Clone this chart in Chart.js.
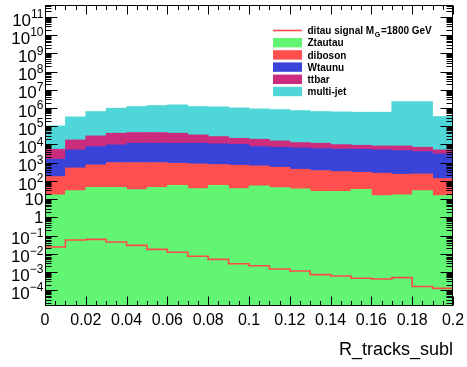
<!DOCTYPE html>
<html>
<head>
<meta charset="utf-8">
<title>R_tracks_subl</title>
<script src="https://cdn.jsdelivr.net/npm/chart.js@4.4.1/dist/chart.umd.min.js"></script>
<style>
  html, body { margin: 0; padding: 0; background: #fff; }
  #wrap { width: 467px; height: 367px; }
</style>
</head>
<body>
<div id="wrap"><canvas id="myChart" width="467" height="367"></canvas></div>
<script>
// 20 bins in R_tracks_subl
const binEdges = [0, 0.01, 0.02, 0.03, 0.04, 0.05, 0.06, 0.07, 0.08, 0.09, 0.1,
                  0.11, 0.12, 0.13, 0.14, 0.15, 0.16, 0.17, 0.18, 0.19, 0.2];

// backgrounds, stacked bottom -> top
const ztautau  = [17, 29, 44, 44, 33, 44, 57, 38, 57, 38, 53, 43, 36, 27, 27, 34, 15.5, 17, 29, 15.5];
const diboson  = [155, 485, 706, 965, 976, 965, 870, 814, 726, 682, 609, 516, 398, 340, 296, 263, 247, 214, 211, 118];
const wtaunu   = [1370, 4500, 6890, 8410, 10630, 10630, 10710, 10790, 9910, 9530,
                  6980, 6460, 6020, 5570, 5130, 5150, 4750, 4370, 3820, 2890];
const ttbar    = [3910, 12700, 21800, 31800, 33200, 33200, 29600, 21800, 16400, 11700,
                  11700, 8630, 6220, 5710, 4390, 3590, 3290, 3700, 2960, 1990];
const multijet = [98900, 308000, 610000, 934000, 1160000, 1323000, 1446000, 1172000, 1127000, 995000,
                  877000, 808000, 713000, 628000, 604000, 579000, 580000, 2257000, 2258000, 335000];

// signal (drawn as a step line, not stacked)
const signal = [0.0234, 0.0569, 0.0617, 0.0442, 0.0288, 0.0174, 0.0120, 0.00724, 0.00490, 0.00282,
                0.00219, 0.00145, 0.00112, 0.00071, 0.00060, 0.00045, 0.00041, 0.00049, 0.00016, 0.000126];

const xTickLabels = ['0', '0.02', '0.04', '0.06', '0.08', '0.1', '0.12', '0.14', '0.16', '0.18', '0.2'];
const yTickExponents = [-4, -3, -2, -1, 0, 1, 2, 3, 4, 5, 6, 7, 8, 9, 10, 11];

const Y_MIN = 1.35e-5;
const Y_MAX = 4.5e11;
const FONT = '"Liberation Sans", Arial, Helvetica, sans-serif';

const stackDefs = [
    { label: 'Ztautau',   values: ztautau,  color: '#62f473' },
    { label: 'diboson',   values: diboson,  color: '#ff4f4f' },
    { label: 'Wtaunu',    values: wtaunu,   color: '#3a43d8' },
    { label: 'ttbar',     values: ttbar,    color: '#cc2c7d' },
    { label: 'multi-jet', values: multijet, color: '#4fd6d8' }
];
const signalColor = '#ff4a4a';

const binCenters = signal.map((_, i) => (binEdges[i] + binEdges[i + 1]) / 2);

// floating bars: each component sits on top of the sum below it
let running = binCenters.map(() => 0);
const barSets = stackDefs.map(def => {
    const pts = def.values.map((v, i) => {
        const lo = running[i];
        const hi = lo + v;
        running[i] = hi;
        return { x: binCenters[i], y: [Math.max(lo, Y_MIN), hi] };
    });
    return {
        type: 'bar',
        label: def.label,
        data: pts,
        backgroundColor: def.color,
        borderWidth: 0,
        grouped: false,
        barPercentage: 1,
        categoryPercentage: 1
    };
});

const signalSet = {
    type: 'line',
    label: 'ditau signal',
    data: binEdges.map((x, i) => ({ x: x, y: signal[Math.min(i, signal.length - 1)] })),
    borderColor: signalColor,
    borderWidth: 1.6,
    pointRadius: 0,
    fill: false,
    stepped: 'before',
    tension: 0
};

function line(ctx, x1, y1, x2, y2) {
    ctx.beginPath();
    ctx.moveTo(x1, y1);
    ctx.lineTo(x2, y2);
    ctx.stroke();
}

function supText(e) {
    const map = { '-': '\u2212' };
    return String(e).split('').map(c => map[c] || c).join('');
}

// frame, inward ticks on all four sides, labels and legend
const rootStyle = {
    id: 'rootStyle',
    afterDraw(chart) {
        const { ctx, chartArea: a, scales: { x, y } } = chart;
        ctx.save();
        ctx.strokeStyle = '#000';
        ctx.lineWidth = 1;

        const L = Math.round(a.left) + 0.5, R = Math.round(a.right) - 0.5;
        const T = Math.round(a.top) + 0.5, B = Math.round(a.bottom) - 0.5;

        // x ticks every 0.005, major every 0.02
        for (let k = 0; k <= 40; k++) {
            const px = Math.round(x.getPixelForValue(k * 0.005)) + 0.5;
            const len = k % 4 === 0 ? 9 : 4.5;
            line(ctx, px, B, px, B - len);
            line(ctx, px, T, px, T + len);
        }
        // y ticks, log decades with 2..9 minors
        for (let e = -5; e <= 11; e++) {
            for (let m = 1; m <= 9; m++) {
                const v = m * Math.pow(10, e);
                if (v < Y_MIN || v > Y_MAX) continue;
                const py = Math.round(y.getPixelForValue(v)) + 0.5;
                const len = m === 1 ? 12 : 6;
                line(ctx, L, py, L + len, py);
                line(ctx, R, py, R - len, py);
            }
        }
        ctx.strokeRect(L, T, R - L, B - T);

        // x labels
        ctx.fillStyle = '#000';
        ctx.font = '16px ' + FONT;
        ctx.textAlign = 'center';
        ctx.textBaseline = 'alphabetic';
        xTickLabels.forEach(t => {
            ctx.fillText(t, x.getPixelForValue(parseFloat(t)), 324.5);
        });

        // y labels
        const xr = 43.5;
        ctx.textAlign = 'right';
        yTickExponents.forEach(e => {
            const py = y.getPixelForValue(Math.pow(10, e));
            if (e === 0 || e === 1) {
                ctx.font = '17px ' + FONT;
                ctx.fillText(e === 0 ? '1' : '10', xr, py + 6.1);
            } else {
                ctx.font = '12px ' + FONT;
                const ex = supText(e);
                const w = ctx.measureText(ex).width;
                ctx.fillText(ex, xr, py + 1.2);
                ctx.font = '17px ' + FONT;
                ctx.fillText('10', xr - w, py + 8.7);
            }
        });

        // axis title
        ctx.font = '18px ' + FONT;
        ctx.textAlign = 'right';
        ctx.fillText('R_tracks_subl', a.right, 354.5);

        // legend
        const bx = 273, bw = 29, tx = 307.5;
        let cy = 30.5;
        const pitch = 12.2;
        ctx.textAlign = 'left';
        ctx.strokeStyle = signalColor;
        ctx.lineWidth = 1.6;
        line(ctx, bx, cy, bx + bw, cy);
        ctx.font = 'bold 10px ' + FONT;
        let s = 'ditau signal M';
        ctx.fillText(s, tx, cy + 3.6);
        let cx = tx + ctx.measureText(s).width + 0.5;
        ctx.font = 'bold 7px ' + FONT;
        ctx.fillText('G', cx, cy + 6.5);
        cx += ctx.measureText('G').width + 0.8;
        ctx.font = 'bold 10px ' + FONT;
        ctx.fillText('=1800 GeV', cx, cy + 3.6);

        stackDefs.forEach(def => {
            cy += pitch;
            ctx.fillStyle = def.color;
            ctx.fillRect(bx, cy - 4.7, bw, 9.4);
            ctx.fillStyle = '#000';
            ctx.fillText(def.label, tx, cy + 3.6);
        });
        ctx.restore();
    }
};

new Chart(document.getElementById('myChart').getContext('2d'), {
    type: 'bar',
    data: { datasets: [signalSet].concat(barSets) },
    options: {
        responsive: false,
        animation: false,
        events: [],
        layout: { padding: { left: 45, right: 14, top: 5, bottom: 61 } },
        plugins: { legend: { display: false }, tooltip: { enabled: false } },
        scales: {
            x: { type: 'linear', min: 0, max: 0.2, offset: false, display: false },
            y: { type: 'logarithmic', min: Y_MIN, max: Y_MAX, display: false }
        }
    },
    plugins: [rootStyle]
});
</script>
</body>
</html>
